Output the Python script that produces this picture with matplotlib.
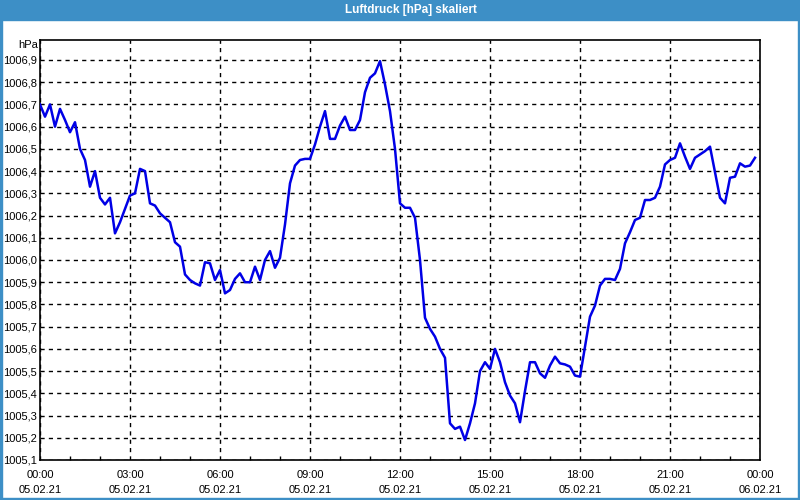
import numpy as np, pandas as pd
import matplotlib
matplotlib.use("Agg")
import matplotlib.pyplot as plt
import matplotlib.dates as mdates
from matplotlib.patches import Rectangle

# Luftdruck, 10-min values 05.02.21 00:00 .. 23:50
pressure = [
    1006.70, 1006.645, 1006.70, 1006.60, 1006.68, 1006.63, 1006.575, 1006.62,
    1006.50, 1006.45, 1006.33, 1006.40, 1006.28, 1006.25, 1006.28, 1006.12,
    1006.17, 1006.23, 1006.29, 1006.30, 1006.41, 1006.40, 1006.255, 1006.245,
    1006.21, 1006.19, 1006.17, 1006.08, 1006.06, 1005.935, 1005.91, 1005.895,
    1005.885, 1005.99, 1005.985, 1005.91, 1005.955, 1005.85, 1005.865, 1005.915,
    1005.94, 1005.90, 1005.90, 1005.97, 1005.91, 1006.00, 1006.04, 1005.965,
    1006.01, 1006.16, 1006.345, 1006.425, 1006.45, 1006.455, 1006.455, 1006.52,
    1006.60, 1006.67, 1006.545, 1006.545, 1006.605, 1006.645, 1006.585, 1006.585,
    1006.63, 1006.755, 1006.82, 1006.84, 1006.895, 1006.79, 1006.67, 1006.50,
    1006.255, 1006.235, 1006.235, 1006.19, 1006.00, 1005.74, 1005.69, 1005.655,
    1005.60, 1005.56, 1005.265, 1005.24, 1005.25, 1005.19, 1005.265, 1005.355,
    1005.50, 1005.54, 1005.51, 1005.60, 1005.54, 1005.45, 1005.39, 1005.355,
    1005.27, 1005.41, 1005.54, 1005.54, 1005.49, 1005.47, 1005.525, 1005.565,
    1005.535, 1005.53, 1005.52, 1005.48, 1005.475, 1005.61, 1005.745, 1005.795,
    1005.885, 1005.915, 1005.915, 1005.91, 1005.96, 1006.075, 1006.125, 1006.18,
    1006.19, 1006.27, 1006.27, 1006.28, 1006.33, 1006.43, 1006.45, 1006.46,
    1006.525, 1006.465, 1006.41, 1006.46, 1006.475, 1006.49, 1006.51, 1006.395,
    1006.28, 1006.255, 1006.37, 1006.375, 1006.435, 1006.42, 1006.425, 1006.46,
]
times = pd.date_range("2021-02-05 00:00", periods=len(pressure), freq="10min")
t_start, t_end = pd.Timestamp("2021-02-05 00:00"), pd.Timestamp("2021-02-06 00:00")
y_ticks = np.round(np.arange(1005.1, 1006.91, 0.1), 1)

BLUE = "#3d8fc6"
plt.rcParams.update({"font.family": "Liberation Sans", "font.size": 8})

fig = plt.figure(figsize=(8, 5), dpi=100)
fig.patch.set_facecolor("white")

# window title bar and frame
fig.patches.append(Rectangle((0, 0.96), 1, 0.04, transform=fig.transFigure,
                             color=BLUE, zorder=0))
for r in [(0, 0, 0.0025, 1), (0.9975, 0, 0.0025, 1), (0, 0, 1, 0.004)]:
    fig.patches.append(Rectangle(r[:2], r[2], r[3], transform=fig.transFigure,
                                 color=BLUE, zorder=0))
fig.text(0.514, 0.979, "Luftdruck [hPa] skaliert", color="white",
         fontweight="bold", fontsize=8.5, ha="center", va="center")

ax = fig.add_axes([0.05, 0.08, 0.90, 0.84])
ax.plot(times, pressure, color="#0000e6", lw=1.8, zorder=3)
ax.set_xlim(t_start, t_end)
ax.set_ylim(1005.1, 1006.99)

ax.set_yticks(y_ticks)
ax.set_yticklabels([f"{v:.1f}".replace(".", ",") for v in y_ticks])
ax.xaxis.set_major_locator(mdates.HourLocator(byhour=range(0, 24, 3)))
ax.xaxis.set_minor_locator(mdates.HourLocator())
ax.xaxis.set_major_formatter(mdates.DateFormatter("%H:%M\n%d.%m.%y"))
ax.tick_params(axis="both", which="major", length=0, pad=2, colors="black")
ax.tick_params(axis="x", which="minor", direction="in", length=3, width=1)
ax.tick_params(axis="x", which="major", pad=7)
ax.grid(True, which="major", color="black", ls=(0, (3, 3)), lw=1)
for s in ax.spines.values():
    s.set_linewidth(1.2)

fig.text(0.0475, 0.91, "hPa", ha="right", va="center", fontsize=8)
for lbl in ax.get_xticklabels():
    lbl.set_linespacing(1.7)

fig.savefig("out.png", dpi=100)
